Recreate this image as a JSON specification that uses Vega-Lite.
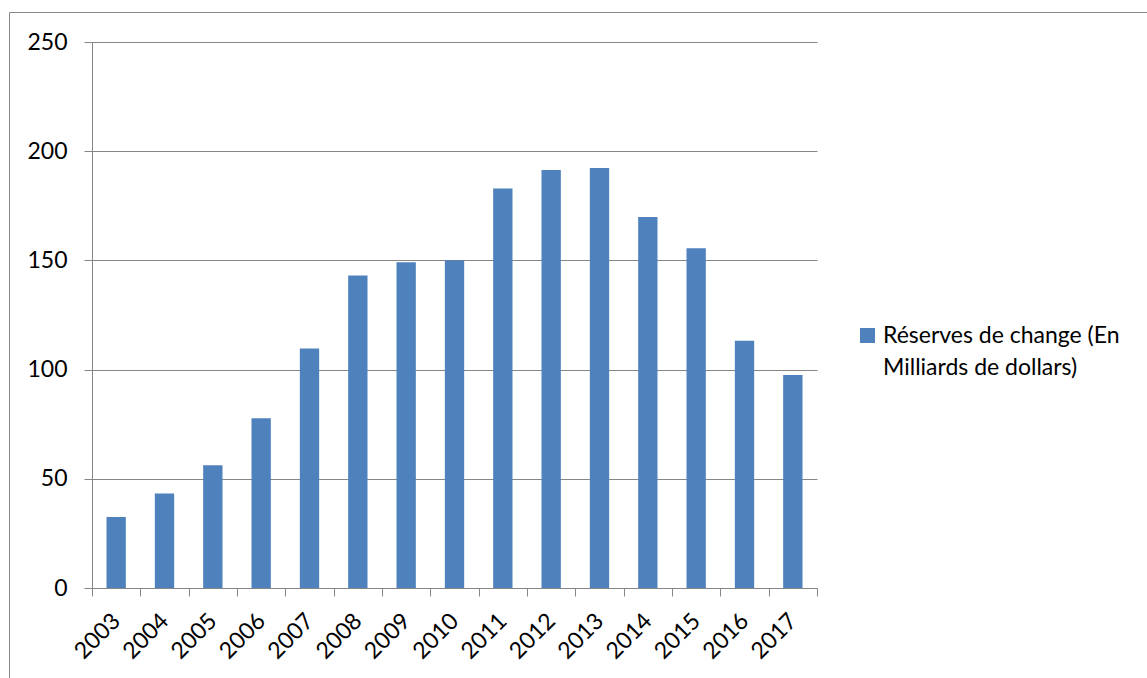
{
  "$schema": "https://vega.github.io/schema/vega-lite/v6.json",
  "autosize": {"type": "none"},
  "padding": {"left": 9, "top": 12, "right": -13, "bottom": -14},
  "width": 1151,
  "height": 680,
  "background": "white",
  "config": {
    "view": {"stroke": "#898989", "strokeWidth": 1},
    "font": "Lato"
  },
  "data": {
    "values": [
      {"year": "2003", "value": 32.5, "serie": "Réserves de change (En Milliards de dollars)"},
      {"year": "2004", "value": 43.3, "serie": "Réserves de change (En Milliards de dollars)"},
      {"year": "2005", "value": 56.2, "serie": "Réserves de change (En Milliards de dollars)"},
      {"year": "2006", "value": 77.7, "serie": "Réserves de change (En Milliards de dollars)"},
      {"year": "2007", "value": 109.7, "serie": "Réserves de change (En Milliards de dollars)"},
      {"year": "2008", "value": 143.1, "serie": "Réserves de change (En Milliards de dollars)"},
      {"year": "2009", "value": 149.1, "serie": "Réserves de change (En Milliards de dollars)"},
      {"year": "2010", "value": 150.1, "serie": "Réserves de change (En Milliards de dollars)"},
      {"year": "2011", "value": 182.9, "serie": "Réserves de change (En Milliards de dollars)"},
      {"year": "2012", "value": 191.4, "serie": "Réserves de change (En Milliards de dollars)"},
      {"year": "2013", "value": 192.3, "serie": "Réserves de change (En Milliards de dollars)"},
      {"year": "2014", "value": 169.9, "serie": "Réserves de change (En Milliards de dollars)"},
      {"year": "2015", "value": 155.6, "serie": "Réserves de change (En Milliards de dollars)"},
      {"year": "2016", "value": 113.2, "serie": "Réserves de change (En Milliards de dollars)"},
      {"year": "2017", "value": 97.5, "serie": "Réserves de change (En Milliards de dollars)"}
    ]
  },
  "mark": {"type": "bar", "width": {"band": 0.4}},
  "encoding": {
    "x": {
      "field": "year",
      "type": "ordinal",
      "scale": {"range": [83, 808], "paddingInner": 0, "paddingOuter": 0},
      "axis": {
        "orient": "bottom",
        "offset": -104,
        "title": null,
        "grid": false,
        "tickBand": "extent",
        "tickSize": 8,
        "tickColor": "#868686",
        "domainColor": "#868686",
        "labelAngle": -45,
        "labelAlign": "right",
        "labelBaseline": "middle",
        "labelPadding": 21,
        "labelFontSize": 23,
        "labelColor": "#000000",
        "labelFont": "Lato"
      }
    },
    "y": {
      "field": "value",
      "type": "quantitative",
      "scale": {"domain": [0, 250], "range": [576, 30], "nice": false, "zero": true},
      "axis": {
        "orient": "left",
        "offset": -83,
        "title": null,
        "values": [0, 50, 100, 150, 200, 250],
        "grid": true,
        "gridColor": "#868686",
        "tickSize": 8,
        "tickColor": "#868686",
        "domainColor": "#868686",
        "labelPadding": 17,
        "labelFontSize": 23,
        "labelColor": "#000000",
        "labelFont": "Lato"
      }
    },
    "color": {
      "field": "serie",
      "type": "nominal",
      "scale": {"range": ["#4F81BD"]},
      "legend": {
        "orient": "none",
        "legendX": 847,
        "legendY": 312,
        "title": null,
        "padding": 0,
        "symbolType": "square",
        "symbolSize": 225,
        "symbolStrokeWidth": 0,
        "labelFontSize": 23,
        "labelFont": "Lato",
        "labelColor": "#000000",
        "labelOffset": 4,
        "labelLimit": 0,
        "labelBaseline": "middle",
        "labelExpr": "['Réserves de change (En', 'Milliards de dollars)']",
        "encode": {"labels": {"update": {"lineHeight": {"value": 32}}}}
      }
    }
  }
}
